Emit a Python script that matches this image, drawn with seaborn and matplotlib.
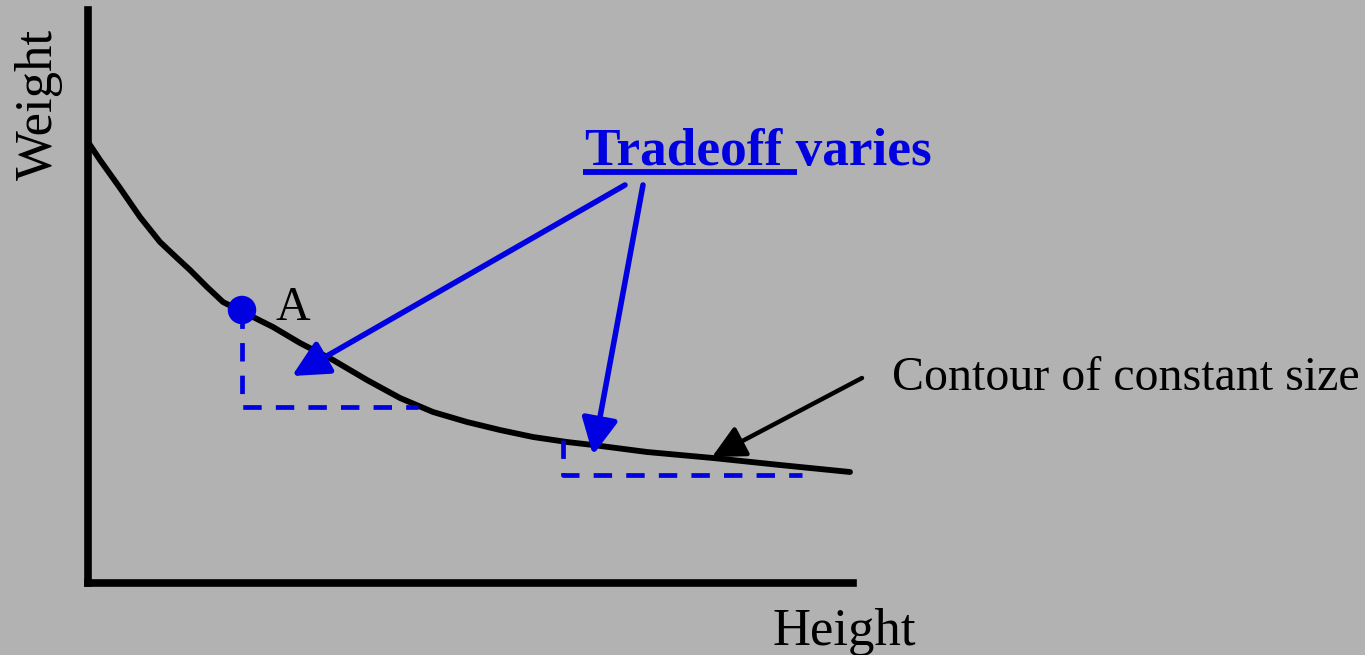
import numpy as np
import pandas as pd
from matplotlib import pyplot as plt
import seaborn as sns

# contour of constant size (height, weight) in axis units
height_pts = [0, 12, 32, 52, 72, 89, 102, 119, 135, 155, 185, 212, 245, 279, 312,
              345, 379, 412, 445, 479, 505, 559, 625, 692, 762]
weight_pts = [441, 423, 395, 366, 341, 325, 313, 296, 281, 271, 256, 240, 223, 203, 185,
              171, 161, 153, 146, 141, 138, 131, 125, 118, 111]
point_a = (154, 273)
# tradeoff steps (dashed)
step1_x = [154, 154, 330]
step1_y = [273, 176, 176]
step2_x = [475, 475, 714]
step2_y = [143, 108, 108]

bg = '#b2b2b2'
blue = '#0000e1'

sns.set_theme(style='white', rc={'axes.facecolor': bg, 'figure.facecolor': bg})
plt.rcParams['font.family'] = ['Liberation Serif', 'DejaVu Serif']

fig = plt.figure(figsize=(13.65, 6.55), dpi=100)
ax = fig.add_axes([88/1365, 72/655, 765/1365, 573/655])
ax.set_xlim(0, 765)
ax.set_ylim(0, 573)
ax.set_xticks([])
ax.set_yticks([])
for s in ['top', 'right']:
    ax.spines[s].set_visible(False)
for s in ['left', 'bottom']:
    ax.spines[s].set_color('black')
    ax.spines[s].set_linewidth(5.5)

curve = pd.DataFrame({'Height': height_pts, 'Weight': weight_pts})
sns.lineplot(data=curve, x='Height', y='Weight', sort=False, color='black',
             linewidth=4.2, ax=ax, clip_on=False, solid_joinstyle='round')
ax.set_xlabel('')
ax.set_ylabel('')

dash = (0, (3.9, 3.0))
ax.plot(step1_x, step1_y, color=blue, linewidth=3.4, linestyle=dash, clip_on=False)
ax.plot(step2_x, step2_y, color=blue, linewidth=3.4, linestyle=dash, clip_on=False)

sns.scatterplot(x=[point_a[0]], y=[point_a[1]], color=blue, s=420, edgecolor='none',
                ax=ax, zorder=5, clip_on=False)
ax.text(187, 263, 'A', fontsize=34.5, color='black', va='baseline', ha='left')

# blue arrows
bprops = dict(arrowstyle='-|>,head_length=1.1,head_width=0.55', mutation_scale=20,
              color=blue, linewidth=4, shrinkA=0, shrinkB=0)
ax.annotate('', xy=(204, 207), xytext=(537, 398), arrowprops=bprops, annotation_clip=False)
ax.annotate('', xy=(505, 128), xytext=(555, 398), arrowprops=bprops, annotation_clip=False)

# black arrow
kprops = dict(arrowstyle='-|>,head_length=1.0,head_width=0.5', mutation_scale=20,
              color='black', linewidth=3.2, shrinkA=0, shrinkB=0)
ax.annotate('', xy=(624, 126), xytext=(774, 205), arrowprops=kprops, annotation_clip=False)

ax.text(497, 418, 'Tradeoff varies', fontsize=38.3, fontweight='bold', color=blue,
        va='baseline', ha='left', clip_on=False)
ax.plot([495, 709], [411, 411], color=blue, linewidth=4.2, solid_capstyle='butt', clip_on=False)

ax.text(804, 193, 'Contour of constant size', fontsize=34.5, color='black',
        va='baseline', ha='left', clip_on=False)
ax.text(685, -62, 'Height', fontsize=38, color='black', va='baseline', ha='left', clip_on=False)
ax.text(-36, 403, 'Weight', fontsize=38, color='black', rotation=90, rotation_mode='anchor',
        va='baseline', ha='left', clip_on=False)

plt.savefig('out.png', dpi=100, facecolor=bg)
